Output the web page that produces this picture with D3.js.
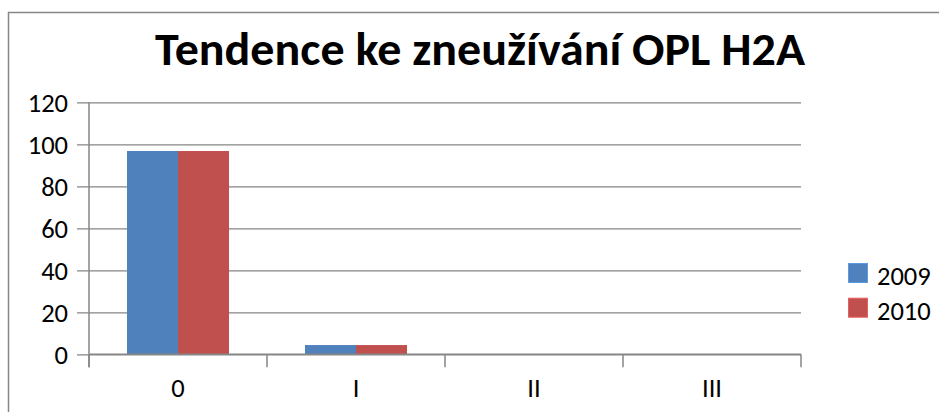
<!DOCTYPE html>
<html>
<head>
<meta charset="utf-8">
<script src="https://cdn.jsdelivr.net/npm/d3@7"></script>
<style>
  html, body { margin: 0; padding: 0; background: #fff; }
  svg { display: block; }
</style>
</head>
<body>
<svg id="chart" width="939" height="412"></svg>
<script>
const title = "Tendence ke zneužívání OPL H2A";
const categories = ["0", "I", "II", "III"];
const seriesNames = ["2009", "2010"];
const values2009 = [96.8, 4.4, 0, 0];
const values2010 = [96.8, 4.4, 0, 0];
const yTicks = [0, 20, 40, 60, 80, 100, 120];
const colors = ["#4F81BD", "#C0504D"];

(function () {
const seriesValues = [values2009, values2010];
const svg = d3.select("#chart");
const font = "Carlito, Calibri, 'Open Sans', sans-serif";
const gray = "#868686";
const labelSize = 26.5;

// outer chart border (continues beyond the visible area on right and bottom)
svg.append("rect")
  .attr("x", 8.5).attr("y", 12.5)
  .attr("width", 960).attr("height", 420)
  .attr("fill", "none").attr("stroke", gray).attr("stroke-width", 1.5);

// title
svg.append("text")
  .attr("x", 155).attr("y", 65)
  .attr("font-family", font)
  .attr("font-weight", "bold")
  .attr("font-size", 47)
  .attr("fill", "#000")
  .attr("textLength", 650)
  .attr("lengthAdjust", "spacingAndGlyphs")
  .text(title);

const pLeft = 89, pRight = 801, pTop = 102.3, pBottom = 354.3;

const x0 = d3.scaleBand().domain(categories).range([pLeft, pRight]).padding(0);
const x1 = d3.scaleBand().domain(seriesNames).range([0, x0.bandwidth()])
  .paddingInner(0).paddingOuter(0.745);
const y = d3.scaleLinear().domain([0, 120]).range([pBottom, pTop]);

// gridlines + y ticks
const yAxis = d3.axisLeft(y).tickValues(yTicks).tickSize(-(pRight - pLeft)).tickPadding(10);
const gy = svg.append("g").attr("transform", `translate(${pLeft},0)`).call(yAxis);
gy.select(".domain").remove();
gy.selectAll(".tick line")
  .attr("x1", -12)
  .attr("stroke", gray).attr("stroke-width", 1.2);
gy.selectAll(".tick text")
  .attr("x", -21).attr("dy", "0.34em")
  .attr("font-family", font).attr("font-size", labelSize).attr("fill", "#000");

// bars
categories.forEach((c, i) => {
  seriesNames.forEach((s, j) => {
    const v = seriesValues[j][i];
    if (v <= 0) return;
    svg.append("rect")
      .attr("x", x0(c) + x1(s))
      .attr("y", y(v))
      .attr("width", x1.bandwidth())
      .attr("height", y(0) - y(v))
      .attr("fill", colors[j]);
  });
});

// y axis line
svg.append("line")
  .attr("x1", pLeft).attr("x2", pLeft)
  .attr("y1", pTop).attr("y2", pBottom + 13)
  .attr("stroke", gray).attr("stroke-width", 1.5);

// x axis
const xAxis = d3.axisBottom(x0).tickSize(0).tickPadding(0);
const gx = svg.append("g").attr("transform", `translate(0,${pBottom})`).call(xAxis);
gx.select(".domain").attr("stroke", gray).attr("stroke-width", 1.5).attr("d", `M${pLeft},0H${pRight}`);
gx.selectAll(".tick text")
  .attr("y", 0).attr("dy", 0)
  .attr("transform", "translate(0,43)")
  .attr("font-family", font).attr("font-size", labelSize).attr("fill", "#000");
// category boundary ticks
const boundaries = categories.map(c => x0(c)).concat([pRight]);
gx.selectAll(".bound").data(boundaries).enter().append("line")
  .attr("class", "bound")
  .attr("x1", d => d).attr("x2", d => d)
  .attr("y1", 0).attr("y2", 13)
  .attr("stroke", gray).attr("stroke-width", 1.5);

// legend
const legend = svg.append("g");
seriesNames.forEach((s, j) => {
  const ly = 263 + j * 34.7;
  legend.append("rect")
    .attr("x", 848.5).attr("y", ly + 0.5)
    .attr("width", 19).attr("height", 19)
    .attr("fill", colors[j])
    .attr("stroke", d3.color(colors[j]).brighter(0.5)).attr("stroke-width", 1);
  legend.append("text")
    .attr("x", 877).attr("y", ly + 22)
    .attr("font-family", font).attr("font-size", labelSize).attr("fill", "#000")
    .text(s);
});
})();
</script>
</body>
</html>
